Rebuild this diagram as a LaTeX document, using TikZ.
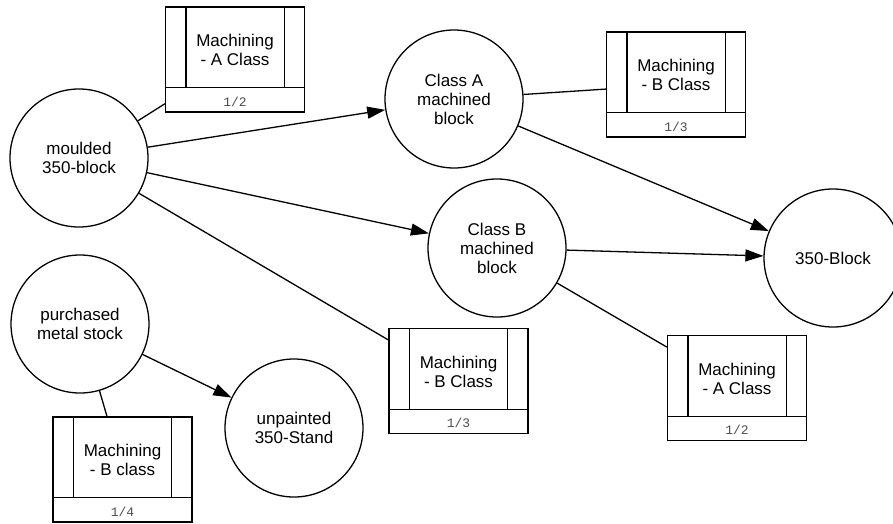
\documentclass[tikz,border=0pt]{standalone}
\usepackage{fontspec}
\setmainfont{Liberation Sans}
\newfontfamily\monof{Liberation Mono}
\usetikzlibrary{arrows.meta}
\tikzset{
  stroke/.style={line width=1.3pt, draw=black},
  state/.style={stroke, circle, minimum size=138pt, inner sep=0pt, align=center,
    font=\fontsize{17}{19}\selectfont},
  pbox/.style={stroke, rectangle, minimum width=139pt, minimum height=105pt, inner sep=0pt},
  boxtext/.style={align=center, inner sep=0pt, font=\fontsize{17}{19}\selectfont},
  numtext/.style={inner sep=0pt, text=black!70, font=\monof\fontsize{13}{15}\selectfont},
  link/.style={stroke},
  arr/.style={stroke, -{Triangle[length=18pt,width=12pt]}},
}
\newcommand\procbox[5]{%
  \node[pbox] (#1) at (#2,#3) {};
  \draw[stroke] ([xshift=21pt]#1.north west) -- ([xshift=21pt,yshift=25pt]#1.south west);
  \draw[stroke] ([xshift=-21pt]#1.north east) -- ([xshift=-21pt,yshift=25pt]#1.south east);
  \draw[stroke] ([yshift=25pt]#1.south west) -- ([yshift=25pt]#1.south east);
  \node[boxtext] (#1t) at ([yshift=-44pt]#1.north) {#4};
  \node[numtext] (#1n) at ([yshift=11pt]#1.south) {#5};
}
\begin{document}
\begin{tikzpicture}[x=1pt,y=-1pt]
\useasboundingbox (0,0) rectangle (893,523);
% states
\node[state] (mb) at (79,158) {moulded\\350-block};
\node[state] (ca) at (454,99) {Class A\\machined\\block};
\node[state] (cb) at (497,248) {Class B\\machined\\block};
\node[state] (blk) at (833,258) {350-Block};
\node[state] (pm) at (80,324) {purchased\\metal stock};
\node[state] (us) at (294,428) {unpainted\\350-Stand};
% process boxes
\procbox{b1}{235}{59.5}{Machining\\- A Class}{1/2}
\procbox{b2}{676}{84.5}{Machining\\- B Class}{1/3}
\procbox{b3}{458.5}{381}{Machining\\- B Class}{1/3}
\procbox{b4}{737}{388}{Machining\\- A Class}{1/2}
\procbox{b5}{122.5}{469.5}{Machining\\- B class}{1/4}
% connectors
\draw[link] (mb) -- (b1);
\draw[link] (mb) -- (b3);
\draw[link] (ca) -- (b2);
\draw[link] (cb) -- (b4);
\draw[link] (pm) -- (b5);
\draw[arr] (mb) -- (ca);
\draw[arr] (mb) -- (cb);
\draw[arr] (ca) -- (blk);
\draw[arr] (cb) -- (blk);
\draw[arr] (pm) -- (us);
\end{tikzpicture}
\end{document}
